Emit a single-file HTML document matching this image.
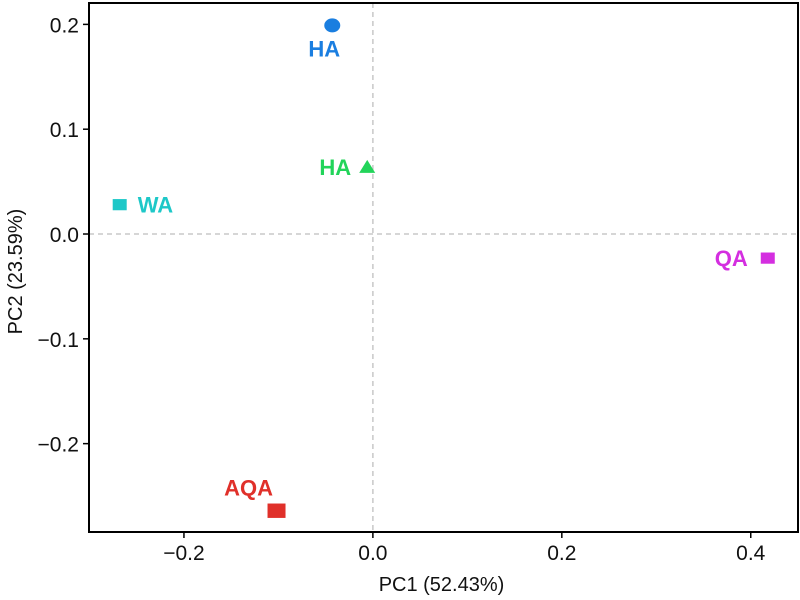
<!DOCTYPE html>
<html><head><meta charset="utf-8"><style>
body{margin:0;background:#fff;}
svg{display:block;font-family:"Liberation Sans",Arial,sans-serif;}
</style></head><body>
<svg id="chart" width="800" height="600"></svg>
<script>
const xTicks=[-0.2,0.0,0.2,0.4];
const yTicks=[-0.2,-0.1,0.0,0.1,0.2];
const xTickLabels=["\u22120.2","0.0","0.2","0.4"];
const yTickLabels=["\u22120.2","\u22120.1","0.0","0.1","0.2"];
const labels=["HA","HA","WA","QA","AQA"];
const pc1=[-0.043,-0.006,-0.268,0.418,-0.102];
const pc2=[0.199,0.064,0.028,-0.023,-0.264];
const shapes=["circle","triangle","square","square","square"];
const colors=["#1a7ee0","#22d45a","#1ec8c8","#d42ee0","#e0302a"];
const L=89,R=798,T=3,B=532;
const x0=-0.3005,x1=0.45,y0=-0.2843,y1=0.2204;
const sx=v=>L+(v-x0)/(x1-x0)*(R-L);
const sy=v=>B-(v-y0)/(y1-y0)*(B-T);
const svg=document.getElementById('chart');
const NS='http://www.w3.org/2000/svg';
function mk(t,a,txt){const e=document.createElementNS(NS,t);for(const k in a)e.setAttribute(k,a[k]);if(txt!==undefined)e.textContent=txt;svg.appendChild(e);return e;}
let e;
e=mk('line',{x1:sx(0),x2:sx(0),y1:T,y2:B,stroke:'#c8c8c8','stroke-width':1.5,'stroke-dasharray':'5,4'});

e=mk('line',{x1:L,x2:R,y1:sy(0),y2:sy(0),stroke:'#c8c8c8','stroke-width':1.5,'stroke-dasharray':'5,4'});

e=mk('rect',{x:L,y:T,width:R-L,height:B-T,fill:'none',stroke:'#000','stroke-width':2});

xTicks.forEach((v,i)=>{
 e=mk('line',{x1:sx(v),x2:sx(v),y1:B,y2:B+6,stroke:'#000','stroke-width':1.5});
 
 e=mk('text',{x:sx(v),y:B+28,'text-anchor':'middle','font-size':21,fill:'#111'},xTickLabels[i]);
 
});
yTicks.forEach((v,i)=>{
 e=mk('line',{x1:L-6,x2:L,y1:sy(v),y2:sy(v),stroke:'#000','stroke-width':1.5});
 
 e=mk('text',{x:L-10,y:sy(v)+8,'text-anchor':'end','font-size':21,fill:'#111'},yTickLabels[i]);
 
});
e=mk('text',{x:(L+R)/2-2,y:591,'text-anchor':'middle','font-size':20,fill:'#111'},'PC1 (52.43%)');

e=mk('text',{x:0,y:0,'text-anchor':'middle','font-size':20,fill:'#111',transform:`translate(22,${(T+B)/2+4}) rotate(-90)`},'PC2 (23.59%)');

const labOff=[[-8,31,'middle'],[-16,8,'end'],[18,8,'start'],[-20,8,'end'],[-28,-15,'middle']];
pc1.forEach((v,i)=>{
 const cx=sx(v),cy=sy(pc2[i]),c=colors[i];
 if(shapes[i]==='circle') e=mk('ellipse',{cx:cx,cy:cy,rx:8,ry:7,fill:c});
 else if(shapes[i]==='triangle') e=mk('polygon',{points:`${cx},${cy-7} ${cx+8},${cy+6} ${cx-8},${cy+6}`,fill:c});
 else {const s=i===4?9:7;e=mk('rect',{x:cx-s,y:cy-s*0.8,width:2*s,height:1.6*s,fill:c});}
 
 const o=labOff[i];
 e=mk('text',{x:cx+o[0],y:cy+o[1],'text-anchor':o[2],'font-size':22,'font-weight':'bold',fill:c},labels[i]);
 
});
</script>
</body></html>
